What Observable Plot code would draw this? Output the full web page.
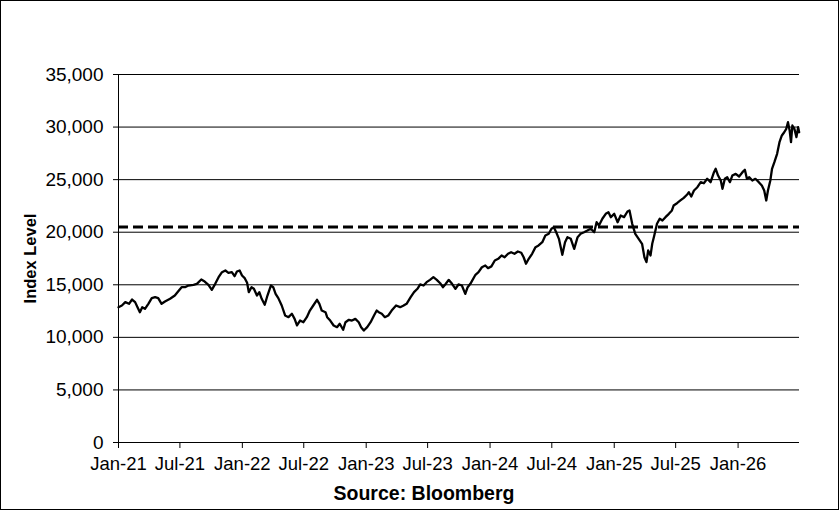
<!DOCTYPE html>
<html><head><meta charset="utf-8">
<script src="https://cdn.jsdelivr.net/npm/d3@7"></script>
<script src="https://cdn.jsdelivr.net/npm/@observablehq/plot@0.6"></script>
<style>
body{margin:0;background:#fff;}
#wrap{position:relative;width:840px;height:511px;overflow:hidden;}
#border{position:absolute;left:0;top:0;width:839px;height:510px;border:1.5px solid #000;box-sizing:border-box;pointer-events:none;}
</style></head><body>
<div id="wrap"><div id="chart"></div><div id="border"></div></div>
<script>
const dates = [
"2021-01-01","2021-01-11","2021-01-21","2021-02-01","2021-02-10","2021-02-19","2021-02-26","2021-03-05","2021-03-12","2021-03-20",
"2021-03-30","2021-04-09","2021-04-19","2021-04-28","2021-05-08","2021-05-18","2021-06-02","2021-06-16","2021-06-28","2021-07-06",
"2021-07-16","2021-07-26","2021-08-10","2021-08-20","2021-09-02","2021-09-12","2021-09-23","2021-10-03","2021-10-13","2021-10-23",
"2021-11-02","2021-11-12","2021-11-21","2021-12-01","2021-12-09","2021-12-16","2021-12-24","2021-12-31","2022-01-08","2022-01-15",
"2022-01-20","2022-01-28","2022-02-04","2022-02-13","2022-02-20","2022-02-27","2022-03-08","2022-03-16","2022-03-26","2022-04-02",
"2022-04-09","2022-04-17","2022-04-27","2022-05-07","2022-05-17","2022-05-27","2022-06-04","2022-06-11","2022-06-20","2022-06-30",
"2022-07-10","2022-07-19","2022-07-29","2022-08-09","2022-08-16","2022-08-23","2022-09-03","2022-09-08","2022-09-17","2022-09-27",
"2022-10-07","2022-10-15","2022-10-25","2022-11-01","2022-11-11","2022-11-20","2022-11-30","2022-12-10","2022-12-17","2022-12-25",
"2023-01-04","2023-01-14","2023-01-24","2023-02-01","2023-02-07","2023-02-16","2023-02-25","2023-03-07","2023-03-17","2023-03-30",
"2023-04-11","2023-04-20","2023-04-30","2023-05-12","2023-05-22","2023-06-01","2023-06-09","2023-06-19","2023-06-28","2023-07-08",
"2023-07-18","2023-07-28","2023-08-07","2023-08-15","2023-08-22","2023-09-01","2023-09-11","2023-09-21","2023-09-30","2023-10-10",
"2023-10-20","2023-10-27","2023-11-04","2023-11-19","2023-11-28","2023-12-08","2023-12-18","2023-12-26","2024-01-05","2024-01-15",
"2024-01-25","2024-02-04","2024-02-13","2024-02-23","2024-03-03","2024-03-13","2024-03-23","2024-04-02","2024-04-09","2024-04-16",
"2024-04-24","2024-05-04","2024-05-14","2024-05-23","2024-06-03","2024-06-12","2024-06-22","2024-06-30","2024-07-07","2024-07-14",
"2024-07-22","2024-08-01","2024-08-09","2024-08-16","2024-08-26","2024-09-05","2024-09-15","2024-09-24","2024-10-04","2024-10-14",
"2024-10-24","2024-11-03","2024-11-10","2024-11-17","2024-11-27","2024-12-07","2024-12-15","2024-12-22","2025-01-01","2025-01-11",
"2025-01-20","2025-01-30","2025-02-09","2025-02-15","2025-02-23","2025-03-04","2025-03-14","2025-03-24","2025-03-31","2025-04-06",
"2025-04-11","2025-04-18","2025-04-23","2025-04-29","2025-05-07","2025-05-15","2025-05-23","2025-06-01","2025-06-11","2025-06-20",
"2025-06-25","2025-07-05","2025-07-15","2025-07-25","2025-08-04","2025-08-09","2025-08-16","2025-08-24","2025-09-03","2025-09-13",
"2025-09-22","2025-10-02","2025-10-12","2025-10-22","2025-10-27","2025-11-03","2025-11-11","2025-11-16","2025-11-23","2025-11-30",
"2025-12-08","2025-12-15","2025-12-25","2026-01-04","2026-01-14","2026-01-21","2026-01-27","2026-02-03","2026-02-12","2026-02-21",
"2026-03-03","2026-03-12","2026-03-19","2026-03-25","2026-03-30","2026-04-06","2026-04-11","2026-04-18","2026-04-26","2026-05-03",
"2026-05-10","2026-05-17","2026-05-23","2026-05-28","2026-06-02","2026-06-06","2026-06-10","2026-06-16","2026-06-22","2026-06-27",
"2026-06-30"
];
const values = [
12870,13030,13350,13190,13600,13350,12870,12390,12870,12710,
13190,13730,13820,13730,13190,13410,13670,13980,14460,14770,
14770,14930,15000,15090,15500,15310,15000,14520,15090,15720,
16200,16360,16140,16200,15820,16260,16360,15880,15630,15190,
14300,14770,14620,13980,14300,13670,13100,13980,14930,14770,
14140,13730,13030,12080,11920,12240,11760,11130,11600,11440,
11920,12550,13030,13570,13190,12550,12390,11920,11600,11130,
10970,11290,10720,11440,11670,11600,11760,11440,10970,10650,
10970,11440,12080,12550,12390,12240,11920,12080,12550,13030,
12870,13000,13190,13820,14300,14620,15030,14930,15250,15470,
15720,15470,15150,14770,15030,15470,15090,14620,15030,14930,
14140,14770,15090,15950,16200,16670,16830,16580,16750,17310,
17470,17790,17620,17950,18100,17950,18170,18050,17620,17000,
17470,17950,18580,18740,19050,19690,19850,20330,20480,20000,
19370,17850,19050,19530,19370,18420,19530,19850,20000,20160,
20330,20000,20950,20640,21280,21750,21900,21430,21750,20950,
21590,21430,21970,22070,20800,19850,19370,18900,17620,17150,
18260,17790,18900,19690,20800,21280,21110,21430,21750,22070,
22540,22760,23020,23270,23590,23800,23400,23970,24280,24760,
24660,25080,24760,25710,26030,25390,24920,24130,25080,25230,
24760,25390,25550,25300,25710,25940,25080,25230,24920,25080,
24760,24440,23970,23020,23970,24920,26030,26660,27460,28560,
29200,29510,29830,30460,29670,28560,30150,29830,29040,29990,
29510
];
const yTicks = [0,5000,10000,15000,20000,25000,30000,35000];
const xTickDates = ["2021-01-01","2021-07-01","2022-01-01","2022-07-01","2023-01-01","2023-07-01","2024-01-01","2024-07-01","2025-01-01","2025-07-01","2026-01-01"];
const xDomain = ["2021-01-01","2026-07-01"];
const referenceLevel = 20500;
const yLabel = "Index Level";
const sourceText = "Source: Bloomberg";

const data = dates.map((d,i)=>({date:new Date(d), value:values[i]}));
const xStart = new Date(xDomain[0]);

const chart = Plot.plot({
  width:840, height:511,
  marginLeft:118, marginRight:41, marginTop:74, marginBottom:69,
  style:{fontFamily:"'Liberation Sans', Arial, sans-serif", fontSize:"19px", color:"#000", background:"#fff", overflow:"visible"},
  x:{type:"utc", domain:xDomain.map(d=>new Date(d))},
  y:{domain:[0,35000]},
  marks:[
    Plot.ruleY(yTicks, {stroke:"#000", strokeWidth:1}),
    Plot.ruleX([xStart], {stroke:"#000", strokeWidth:1}),
    Plot.axisY(yTicks, {tickSize:5, tickPadding:10, tickFormat:d3.format(","), label:null, fontSize:19, stroke:"#000"}),
    Plot.axisX(xTickDates.map(d=>new Date(d)), {tickSize:6, tickPadding:8, tickFormat:d3.utcFormat("%b-%y"), label:null, fontSize:18.5, stroke:"#000"}),
    Plot.ruleY([referenceLevel], {stroke:"#000", strokeWidth:3, strokeDasharray:"10,5"}),
    Plot.lineY(data, {x:"date", y:"value", stroke:"#000", strokeWidth:2.3, strokeLinejoin:"round"}),
    Plot.text([yLabel], {frameAnchor:"left", dx:-88, rotate:-90, textAnchor:"middle", lineAnchor:"middle", fontWeight:"bold", fontSize:16.5, fill:"#000"}),
    Plot.text([sourceText], {frameAnchor:"bottom", dx:-35, dy:51, textAnchor:"middle", lineAnchor:"middle", fontWeight:"bold", fontSize:19.5, fill:"#000"})
  ]
});
document.getElementById("chart").appendChild(chart);
</script>
</body></html>
